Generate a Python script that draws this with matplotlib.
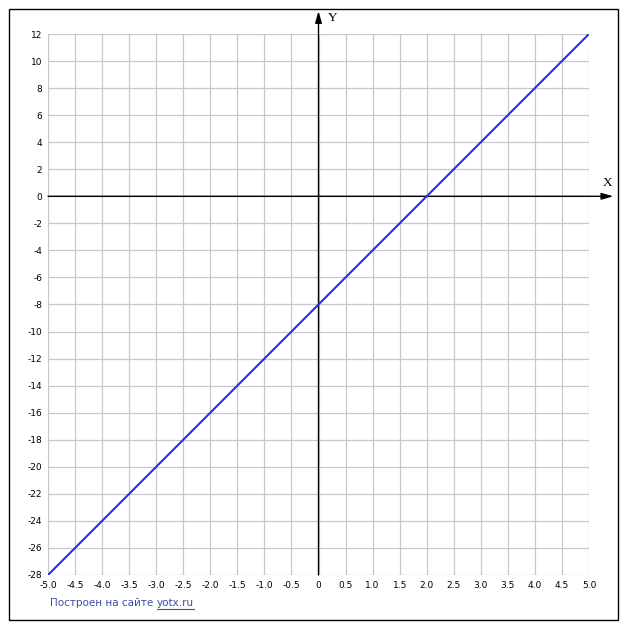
import matplotlib
matplotlib.use("Agg")
import matplotlib.pyplot as plt
from matplotlib.patches import Rectangle
import numpy as np

# data
x_vals = [-5.0, 5.0]
y_vals = [-28.0, 12.0]
x_ticks = [-5.0 + 0.5 * i for i in range(21)]
y_ticks = list(range(-28, 13, 2))

W, H = 627, 630
fig = plt.figure(figsize=(W / 100, H / 100), dpi=100)
ax = fig.add_axes([48 / W, 1 - 575 / H, (589 - 48) / W, (575 - 34) / H])
ax.set_xlim(-5, 5)
ax.set_ylim(-28, 12)
for s in ax.spines.values():
    s.set_visible(False)
ax.set_xticks(x_ticks)
ax.set_yticks(y_ticks)
ax.set_xticklabels([f"{v:.1f}" if v != 0 else "0" for v in x_ticks], fontsize=6.5, family="DejaVu Sans")
ax.set_yticklabels([str(v) for v in y_ticks], fontsize=6.5, family="DejaVu Sans")
ax.tick_params(length=0, pad=4)
ax.grid(True, color="#c8c8c8", linewidth=0.9)
ax.set_axisbelow(True)

# axes with arrows
ax.annotate("", xy=(5.45, 0), xytext=(-5, 0), annotation_clip=False,
            arrowprops=dict(arrowstyle="-|>,head_length=0.7,head_width=0.2", color="black", lw=1, shrinkA=0, shrinkB=0))
ax.annotate("", xy=(0, 13.7), xytext=(0, -28), annotation_clip=False,
            arrowprops=dict(arrowstyle="-|>,head_length=0.7,head_width=0.2", color="black", lw=1, shrinkA=0, shrinkB=0))
ax.text(5.35, 0.55, "X", family="Liberation Serif", fontsize=9.5, ha="center", va="bottom")
ax.text(0.27, 13.2, "Y", family="Liberation Serif", fontsize=9.5, ha="center", va="center", clip_on=False)

ax.plot(x_vals, y_vals, color="#2233e6", linewidth=1.5, zorder=5)

# border
fig.patches.append(Rectangle((9 / W, 1 - 620 / H), (618 - 9) / W, (620 - 9) / H,
                             transform=fig.transFigure, fill=False, edgecolor="black", linewidth=1))
# footer
t = fig.text(50 / W, 1 - 603 / H, "Построен на сайте ", color="#3b4fa8", fontsize=7.5, va="center", family="DejaVu Sans")
fig.canvas.draw()
bb = t.get_window_extent()
t2 = fig.text(bb.x1 / W, 1 - 603 / H, "yotx.ru", color="#3b4fa8", fontsize=7.5, va="center", family="DejaVu Sans")
fig.canvas.draw()
bb2 = t2.get_window_extent()
fig.add_artist(plt.Line2D([bb2.x0 / W, bb2.x1 / W], [(bb2.y0 - 0.5) / H, (bb2.y0 - 0.5) / H],
                          color="#3b4fa8", linewidth=0.8, transform=fig.transFigure))

fig.savefig("out.png", dpi=100)
